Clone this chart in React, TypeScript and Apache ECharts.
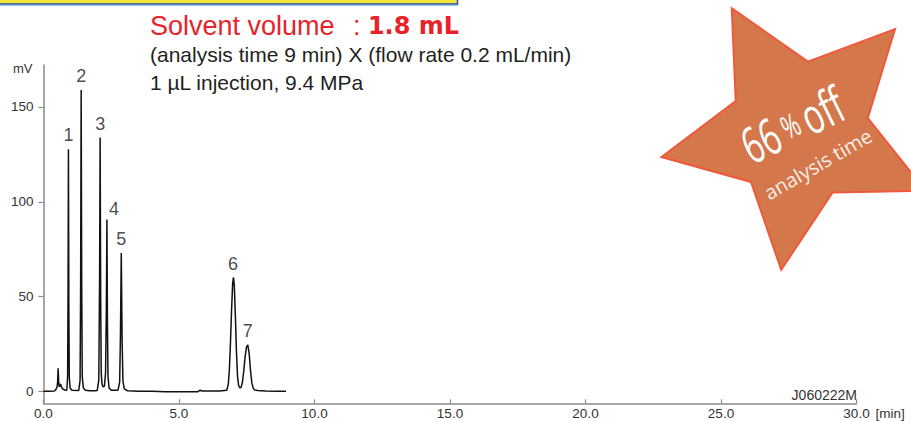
import React, { useEffect, useRef } from "react";
import * as echarts from "echarts";

// Chromatogram trace (time in min, signal in mV)
const traceTime = [
  0, 0.2, 0.4, 0.45, 0.5, 0.52, 0.54, 0.56, 0.58, 0.6, 0.62, 0.64, 0.66, 0.7, 0.78,
  0.86, 0.89, 0.905, 0.92, 0.935, 0.95, 0.98, 1.05,
  1.3, 1.35, 1.37, 1.39, 1.41, 1.43, 1.47, 1.55,
  1.7, 1.9,
  1.98, 2.04, 2.07, 2.09, 2.11, 2.13, 2.16, 2.2,
  2.25, 2.29, 2.32, 2.34, 2.36, 2.38, 2.42, 2.5,
  2.75, 2.81, 2.84, 2.87, 2.9, 2.93, 2.98, 3.1,
  3.5, 4.0, 4.5, 5.0, 5.7, 5.78, 5.85, 6.5,
  6.76, 6.82, 6.86, 6.9, 6.94, 6.98, 7.01, 7.04, 7.08, 7.12, 7.16, 7.2, 7.25,
  7.29, 7.34, 7.39, 7.44, 7.49, 7.54, 7.59, 7.64, 7.69, 7.74, 7.8, 7.9,
  8.2, 8.6, 8.95,
];
const traceSignal = [
  0.2, 0.2, 0.4, 1.0, 2.5, 5, 12.3, 5, 2.5, 4.2, 2.8, 3.8, 2.5, 1.6, 0.9,
  0.8, 8, 50, 127.7, 45, 8, 2, 0.8,
  0.6, 6, 55, 158.8, 55, 8, 2, 0.8,
  0.5, 0.5,
  0.6, 6, 60, 133.8, 50, 10, 4, 2.5,
  3, 10, 45, 90.6, 35, 8, 2, 0.8,
  0.8, 5, 30, 73, 28, 6, 1.5, 0.5,
  0.3, 0.2, 0.0, 0.0, 0.0, 0.8, 0.4, 0.4,
  0.8, 4, 12, 26, 43, 57, 60.2, 56, 40, 21, 8, 3.2, 2.0,
  2.3, 5, 11, 18.5, 23.5, 24.6, 20, 11, 4.5, 1.8, 0.9, 0.6,
  0.4, 0.3, 0.2,
];

// Peak annotations
const peakNames = ["1", "2", "3", "4", "5", "6", "7"];
const peakTimes = [0.92, 1.39, 2.09, 2.34, 2.87, 7.01, 7.54];
const peakHeights = [127.7, 158.8, 133.8, 90.6, 73, 60.2, 24.6];

// Axis ticks
const yTickValues = [0, 50, 100, 150];
const xMin = 0;
const xMax = 30;
const xInterval = 5;

const FONT = "'Liberation Sans', Arial, Helvetica, sans-serif";
const AXIS_COLOR = "#8a8a8a";
const LABEL_COLOR = "#333333";

const labelOffsets: Record<string, number[]> = {
  "4": [7, 3],
  "6": [-0.5, 1],
};

function starPoints(cx: number, cy: number, R: number, r: number, startDeg: number) {
  const pts: number[][] = [];
  for (let i = 0; i < 10; i++) {
    const a = ((startDeg + i * 36) * Math.PI) / 180;
    const rad = i % 2 === 0 ? R : r;
    pts.push([cx + rad * Math.cos(a), cy + rad * Math.sin(a)]);
  }
  return pts;
}

export default function App() {
  const ref = useRef<HTMLDivElement>(null);

  useEffect(() => {
    document.body.style.margin = "0";
    if (!ref.current) return;
    const chart = echarts.init(ref.current, undefined, { renderer: "svg" });

    const traceData = traceTime.map((t, i) => [t, traceSignal[i]]);
    const peakData = peakNames.map((n, i) => {
      const item: any = { name: n, value: [peakTimes[i], peakHeights[i]] };
      if (labelOffsets[n]) item.label = { offset: labelOffsets[n] };
      return item;
    });

    const option: any = {
      animation: false,
      grid: { left: 43.5, right: 54.5, top: 65, bottom: 17.7, containLabel: false },
      xAxis: {
        type: "value",
        min: xMin,
        max: xMax,
        interval: xInterval,
        axisLine: { onZero: false, lineStyle: { color: AXIS_COLOR, width: 1.5 } },
        axisTick: { show: true, inside: true, length: 4, lineStyle: { color: AXIS_COLOR, width: 1.2 } },
        axisLabel: {
          formatter: (v: number) => v.toFixed(1),
          color: LABEL_COLOR,
          fontSize: 13.5,
          fontFamily: FONT,
          margin: 3,
        },
        splitLine: { show: false },
        name: "[min]",
        nameLocation: "end",
        nameGap: 15,
        nameTextStyle: {
          color: LABEL_COLOR,
          fontSize: 13.5,
          fontFamily: FONT,
          align: "left",
          verticalAlign: "top",
          lineHeight: 14,
          padding: [3, 0, 0, 0],
        },
      },
      yAxis: {
        type: "value",
        min: -6.1,
        max: 172,
        axisLine: { show: true, lineStyle: { color: AXIS_COLOR, width: 1.5 } },
        axisTick: { show: true, length: 5, customValues: yTickValues, lineStyle: { color: AXIS_COLOR, width: 1.2 } },
        axisLabel: {
          customValues: yTickValues,
          color: LABEL_COLOR,
          fontSize: 13.5,
          fontFamily: FONT,
          margin: 10,
        },
        splitLine: { show: false },
        name: "mV",
        nameLocation: "end",
        nameGap: -3,
        nameTextStyle: {
          color: LABEL_COLOR,
          fontSize: 13,
          fontFamily: FONT,
          align: "right",
          verticalAlign: "middle",
          padding: [0, 11, 0, 0],
        },
      },
      series: [
        {
          type: "line",
          data: traceData,
          showSymbol: false,
          symbol: "none",
          lineStyle: { color: "#111111", width: 1.5 },
          z: 3,
        },
        {
          type: "scatter",
          data: peakData,
          symbolSize: 0,
          silent: true,
          label: {
            show: true,
            position: "top",
            distance: 5,
            formatter: "{b}",
            color: "#1a1a1a",
            fontSize: 18,
            fontFamily: FONT,
          },
          z: 4,
        },
      ],
      graphic: [
        // cut-off banner at top-left
        {
          type: "rect",
          shape: { x: -3, y: -10, width: 460.5, height: 14 },
          style: { fill: "#f3e43c", stroke: "#2357a6", lineWidth: 1.5 },
          z: 10,
        },
        {
          type: "line",
          shape: { x1: 0, y1: 5.6, x2: 458, y2: 5.6 },
          style: { stroke: "#8ec6ec", lineWidth: 1 },
          z: 10,
        },
        // title lines
        {
          type: "text",
          x: 150,
          y: 25.6,
          style: {
            text: "{a|Solvent volume \u2009\u2009: }{b|1.8 mL}",
            verticalAlign: "middle",
            rich: {
              a: { fontSize: 27, fontFamily: FONT, fill: "#e8232b" },
              b: { fontSize: 24, fontFamily: "'DejaVu Sans', sans-serif", fontWeight: "bold", fill: "#e8232b" },
            },
          },
          z: 10,
        },
        {
          type: "text",
          x: 150,
          y: 54.4,
          style: {
            text: "(analysis time 9 min) X (flow rate 0.2 mL/min)",
            fontSize: 21,
            fontFamily: FONT,
            fill: "#231f20",
            verticalAlign: "middle",
          },
          z: 10,
        },
        {
          type: "text",
          x: 150,
          y: 82.7,
          style: {
            text: "1 \u00b5L injection, 9.4 MPa",
            fontSize: 21,
            fontFamily: FONT,
            fill: "#231f20",
            verticalAlign: "middle",
          },
          z: 10,
        },
        // code label
        {
          type: "text",
          x: 857,
          y: 395,
          style: {
            text: "J060222M",
            fontSize: 14,
            fontFamily: FONT,
            fill: LABEL_COLOR,
            align: "right",
            verticalAlign: "middle",
          },
          z: 10,
        },
        // star badge
        {
          type: "polygon",
          shape: { points: starPoints(799, 131, 140, 70, -118.7) },
          style: { fill: "#d4774b", stroke: "#f0583c", lineWidth: 2 },
          z: 20,
        },
        {
          type: "text",
          x: 792,
          y: 124,
          rotation: (26 * Math.PI) / 180,
          scaleX: 0.66,
          style: {
            text: "{n|66}{p| % }{n|off}",
            align: "center",
            verticalAlign: "middle",
            rich: {
              n: { fontSize: 50, fontFamily: "'Open Sans', sans-serif", fill: "#ffffff" },
              p: { fontSize: 32, fontFamily: "'Open Sans', sans-serif", fill: "#ffffff" },
            },
          },
          z: 21,
        },
        {
          type: "text",
          x: 818,
          y: 164,
          rotation: (30 * Math.PI) / 180,
          style: {
            text: "analysis time",
            fontSize: 20,
            fontFamily: "'Open Sans', sans-serif",
            fill: "#fbeee6",
            align: "center",
            verticalAlign: "middle",
          },
          z: 21,
        },
      ],
    };

    chart.setOption(option);
    return () => chart.dispose();
  }, []);

  return <div ref={ref} style={{ width: 911, height: 421 }} />;
}
